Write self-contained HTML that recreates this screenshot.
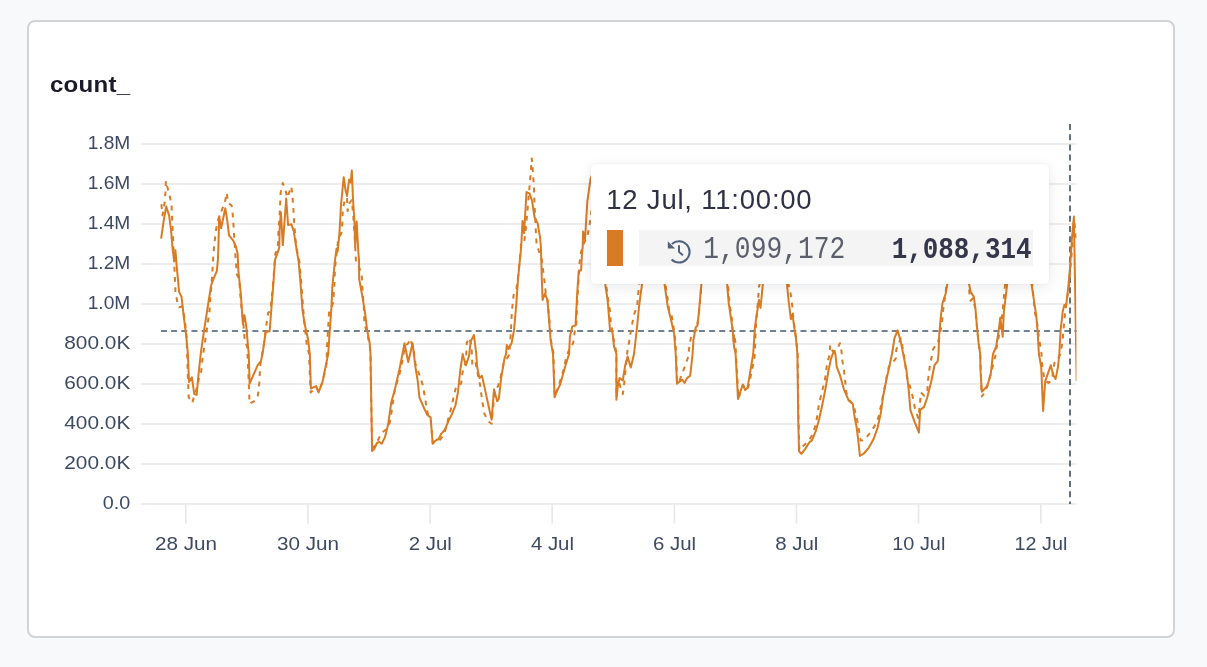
<!DOCTYPE html>
<html><head><meta charset="utf-8"><title>count_</title>
<style>
html,body{margin:0;padding:0}
body{width:1207px;height:667px;background:#f8f9fb;position:relative;overflow:hidden;font-family:"Liberation Sans",sans-serif}
.card{position:absolute;left:27px;top:20px;width:1144px;height:614px;border:2px solid #d2d3d7;border-radius:8px;background:#fff}
.title{position:absolute;left:50px;top:70px;font-weight:bold;font-size:22px;letter-spacing:.2px;color:#1a1a2b;line-height:30px;white-space:nowrap;transform:scaleX(1.095);transform-origin:0 0}
svg.chart{position:absolute;left:0;top:0}
svg.chart text{font-family:"Liberation Sans",sans-serif;font-size:19px;fill:#3d4a63}
.tip{position:absolute;left:591px;top:164px;width:458px;height:120px;background:#fff;border-radius:4.5px;box-shadow:0 3px 14px rgba(30,40,60,.10),0 0 2px rgba(30,40,60,.07)}
.tip .hd{position:absolute;left:15.3px;top:20.4px;font-size:27.5px;letter-spacing:.78px;line-height:32px;color:#2f3144;white-space:nowrap}
.tip .sw{position:absolute;left:16px;top:66px;width:16px;height:36px;background:#d97b23}
.tip .row{position:absolute;left:48px;top:66px;width:394px;height:36px;background:#f4f4f5}
.tip .prev{position:absolute;left:64.3px;top:3.3px;font-family:"Liberation Mono",monospace;font-size:26.3px;line-height:36px;color:#5b5f6b;white-space:nowrap;display:inline-block;transform:scaleY(1.17);transform-origin:50% 62%}
.tip .cur{position:absolute;right:1.5px;top:3.3px;font-family:"Liberation Mono",monospace;font-weight:bold;font-size:25.9px;line-height:36px;color:#34364a;white-space:nowrap;display:inline-block;transform:scaleY(1.17);transform-origin:50% 62%}
.tip svg{position:absolute;left:64px;top:66px}
</style></head><body>
<div class="card"></div>
<div class="title">count_</div>
<svg class="chart" width="1207" height="667" viewBox="0 0 1207 667">
<defs><clipPath id="cp"><rect x="140" y="120" width="936.4" height="390"/></clipPath></defs>
<g stroke="#e7e7e9" stroke-width="1.6"><line x1="141" x2="1076.5" y1="144" y2="144"/><line x1="141" x2="1076.5" y1="184" y2="184"/><line x1="141" x2="1076.5" y1="224" y2="224"/><line x1="141" x2="1076.5" y1="264" y2="264"/><line x1="141" x2="1076.5" y1="304" y2="304"/><line x1="141" x2="1076.5" y1="344" y2="344"/><line x1="141" x2="1076.5" y1="384" y2="384"/><line x1="141" x2="1076.5" y1="424" y2="424"/><line x1="141" x2="1076.5" y1="464" y2="464"/><line x1="141" x2="1076.5" y1="504" y2="504"/><line x1="185.8" x2="185.8" y1="504" y2="523.5"/><line x1="307.9" x2="307.9" y1="504" y2="523.5"/><line x1="430.1" x2="430.1" y1="504" y2="523.5"/><line x1="552.2" x2="552.2" y1="504" y2="523.5"/><line x1="674.4" x2="674.4" y1="504" y2="523.5"/><line x1="796.5" x2="796.5" y1="504" y2="523.5"/><line x1="918.6" x2="918.6" y1="504" y2="523.5"/><line x1="1040.8" x2="1040.8" y1="504" y2="523.5"/></g>
<g><text x="87.7" y="148.9" textLength="42.6" lengthAdjust="spacingAndGlyphs">1.8M</text><text x="87.7" y="188.9" textLength="42.6" lengthAdjust="spacingAndGlyphs">1.6M</text><text x="87.7" y="228.9" textLength="42.6" lengthAdjust="spacingAndGlyphs">1.4M</text><text x="87.7" y="268.9" textLength="42.6" lengthAdjust="spacingAndGlyphs">1.2M</text><text x="87.7" y="308.9" textLength="42.6" lengthAdjust="spacingAndGlyphs">1.0M</text><text x="64.3" y="348.9" textLength="66" lengthAdjust="spacingAndGlyphs">800.0K</text><text x="64.3" y="388.9" textLength="66" lengthAdjust="spacingAndGlyphs">600.0K</text><text x="64.3" y="428.9" textLength="66" lengthAdjust="spacingAndGlyphs">400.0K</text><text x="64.3" y="468.9" textLength="66" lengthAdjust="spacingAndGlyphs">200.0K</text><text x="102.8" y="508.9" textLength="27.5" lengthAdjust="spacingAndGlyphs">0.0</text></g><g><text x="155.0" y="550" textLength="62" lengthAdjust="spacingAndGlyphs">28 Jun</text><text x="277.1" y="550" textLength="62" lengthAdjust="spacingAndGlyphs">30 Jun</text><text x="408.7" y="550" textLength="43.1" lengthAdjust="spacingAndGlyphs">2 Jul</text><text x="530.9" y="550" textLength="43.1" lengthAdjust="spacingAndGlyphs">4 Jul</text><text x="653.0" y="550" textLength="43.1" lengthAdjust="spacingAndGlyphs">6 Jul</text><text x="775.2" y="550" textLength="43.1" lengthAdjust="spacingAndGlyphs">8 Jul</text><text x="892.3" y="550" textLength="53" lengthAdjust="spacingAndGlyphs">10 Jul</text><text x="1014.6" y="550" textLength="52.7" lengthAdjust="spacingAndGlyphs">12 Jul</text></g>
<line x1="161" x2="1076.5" y1="331" y2="331" stroke="#44586e" stroke-width="1.7" stroke-dasharray="6 4.15"/>
<line x1="1070" x2="1070" y1="124" y2="504" stroke="#44586e" stroke-width="1.7" stroke-dasharray="6 4.2"/>
<path clip-path="url(#cp)" d="M161.4 204.2 L162.5 215.4 L164.6 202.6 L165.4 192.9 L165.9 180.9 L167.0 185.7 L169.4 194.5 L171.5 204.2 L172.3 223.4 L173.0 236.2 L173.4 247.0 L174.6 271.1 L175.5 291.9 L177.5 303.1 L179.1 307.2 L182.3 306.4 L184.7 319.2 L186.6 336.8 L187.9 378.1 L188.7 397.3 L192.2 402.9 L194.3 395.7 L196.4 389.3 L199.1 378.1 L201.2 371.6 L202.3 360.4 L207.1 327.2 L209.5 311.2 L210.3 298.3 L211.9 279.1 L213.1 259.8 L214.0 247.0 L216.0 229.8 L217.9 220.2 L221.6 210.6 L224.8 202.6 L226.7 192.9 L228.0 202.6 L231.7 205.8 L232.8 215.4 L233.6 226.6 L234.1 236.2 L234.9 247.0 L235.7 259.8 L236.8 274.3 L239.2 279.1 L240.3 295.1 L241.6 308.0 L242.9 317.6 L244.8 341.6 L247.2 346.5 L248.8 384.5 L249.6 403.7 L255.3 400.5 L257.7 396.5 L259.3 382.9 L260.1 366.8 L260.9 360.4 L264.1 343.2 L266.5 324.0 L268.1 312.8 L270.2 311.2 L272.1 295.1 L273.7 275.9 L275.3 253.4 L277.7 248.6 L278.5 231.4 L279.8 212.2 L280.6 192.9 L282.8 183.0 L285.7 191.3 L287.3 197.7 L291.3 186.5 L292.5 196.1 L293.3 207.4 L293.9 218.6 L294.6 228.2 L296.2 247.0 L299.4 261.4 L301.0 279.1 L303.4 311.2 L304.5 324.0 L306.6 343.2 L309.0 354.0 L310.6 392.5 L313.0 390.1 L316.2 386.9 L318.6 391.7 L322.6 382.1 L326.6 363.6 L327.0 346.5 L328.2 327.2 L329.0 312.8 L333.1 303.1 L334.3 287.1 L335.0 267.9 L336.3 256.6 L338.0 241.0 L341.7 232.0 L342.5 220.0 L342.7 209.5 L344.7 200.5 L347.0 197.5 L347.6 211.0 L349.5 203.0 L351.8 200.0 L353.3 216.0 L354.6 236.0 L355.4 250.0 L356.0 262.0 L357.6 264.6 L361.6 272.7 L362.1 283.9 L363.2 298.3 L364.0 311.2 L364.4 324.0 L367.2 333.6 L369.7 344.9 L370.5 354.0 L370.9 386.1 L372.1 448.6 L375.3 445.4 L379.3 437.4 L381.7 432.6 L386.5 429.4 L389.7 423.0 L391.6 411.7 L394.8 390.1 L399.7 373.2 L402.1 362.0 L404.9 346.5 L408.2 343.2 L410.2 338.8 L412.2 344.9 L413.8 351.3 L415.4 363.6 L419.4 374.9 L422.6 384.5 L425.0 397.3 L426.6 408.5 L428.2 415.0 L430.6 418.2 L432.7 443.0 L435.4 441.4 L439.4 440.6 L444.2 434.2 L446.7 424.6 L449.1 415.8 L451.5 406.9 L453.9 395.7 L456.3 386.1 L461.1 383.7 L462.7 371.6 L465.9 362.0 L466.7 343.2 L469.1 337.6 L471.5 344.9 L472.3 365.2 L475.5 362.0 L477.9 374.9 L480.3 386.1 L481.9 398.9 L484.3 413.4 L488.4 421.4 L491.6 423.8 L493.2 406.9 L494.8 390.9 L498.0 386.1 L500.4 378.1 L503.6 363.6 L509.2 354.8 L510.8 333.6 L511.3 322.4 L511.9 311.2 L512.9 301.5 L514.0 291.9 L516.4 288.7 L518.0 277.5 L519.6 261.4 L520.9 248.6 L520.9 242.7 L524.1 241.9 L525.3 234.6 L527.3 212.2 L529.7 184.9 L531.8 158.4 L532.9 172.1 L534.0 188.1 L534.5 204.2 L535.3 220.2 L536.1 236.2 L536.6 244.3 L541.8 259.8 L543.4 272.7 L545.0 285.5 L545.8 293.5 L547.7 301.5 L549.3 319.2 L550.9 340.0 L553.4 352.9 L554.6 396.5 L558.6 386.1 L563.5 370.0 L565.9 358.8 L569.1 349.7 L573.1 343.2 L574.7 332.0 L576.3 324.0 L577.6 295.1 L579.2 271.1 L579.5 263.0 L581.1 251.8 L584.2 242.7 L587.4 236.2 L589.8 223.4 L593.0 200.0 L597.0 180.0 L600.0 195.0 L604.0 240.0 L606.0 283.9 L608.4 301.5 L610.0 311.2 L610.8 322.4 L613.2 336.8 L614.8 344.9 L616.4 352.9 L616.4 397.3 L618.3 379.7 L620.4 386.9 L622.8 394.1 L624.1 384.5 L625.7 368.4 L626.8 357.2 L627.6 349.7 L629.2 341.6 L631.6 327.2 L634.0 314.4 L637.2 306.4 L638.0 295.1 L639.2 285.5 L643.0 240.0 L648.0 200.0 L654.0 210.0 L660.0 245.0 L665.3 283.9 L666.9 293.5 L669.3 311.2 L671.7 316.0 L673.3 325.6 L674.9 336.8 L676.2 352.9 L677.0 382.9 L679.0 382.1 L682.2 373.2 L685.4 365.2 L688.6 355.6 L688.9 349.7 L691.0 336.8 L692.6 332.0 L696.6 330.4 L699.0 312.8 L701.4 285.5 L705.0 240.0 L710.0 205.0 L716.0 215.0 L722.0 250.0 L727.9 283.9 L729.5 303.1 L731.9 319.2 L732.7 333.6 L734.0 343.2 L734.0 333.6 L735.6 343.2 L735.9 352.9 L738.5 398.1 L741.2 390.1 L743.3 385.3 L745.5 390.1 L748.4 386.9 L752.4 368.4 L754.5 357.2 L754.9 349.7 L755.7 330.4 L756.5 317.6 L758.1 299.9 L758.9 287.1 L759.7 283.9 L766.0 240.0 L771.0 200.0 L777.0 210.0 L783.0 245.0 L788.5 283.9 L790.9 295.1 L792.5 308.0 L793.4 319.2 L795.0 330.4 L796.6 343.2 L797.7 354.0 L797.8 370.0 L798.5 418.2 L799.3 450.2 L802.2 447.0 L804.6 444.6 L809.4 439.8 L812.6 434.2 L815.8 424.6 L817.4 415.0 L819.0 403.7 L821.4 394.1 L823.8 384.5 L825.8 374.9 L827.0 363.6 L829.4 355.6 L830.2 344.9 L832.7 351.3 L836.7 350.5 L839.9 343.2 L841.5 351.3 L842.3 360.4 L843.9 370.0 L845.2 381.3 L846.3 392.5 L849.5 400.5 L853.5 405.3 L856.7 417.4 L858.3 426.2 L860.7 440.6 L863.9 440.3 L870.3 432.6 L876.0 423.8 L879.2 415.0 L881.6 402.1 L884.0 390.9 L886.4 378.1 L888.8 366.8 L894.4 360.4 L896.0 358.0 L896.3 349.7 L900.8 338.4 L902.4 346.5 L903.7 352.9 L904.8 362.0 L907.2 378.1 L910.4 387.7 L913.6 400.5 L915.2 410.1 L918.4 418.2 L920.1 402.1 L920.9 392.5 L924.1 395.7 L927.3 390.9 L928.1 379.7 L929.7 366.8 L931.3 358.8 L932.9 349.7 L935.3 345.7 L937.7 343.2 L940.1 333.6 L942.0 322.4 L943.0 311.2 L945.7 291.9 L946.5 284.7 L951.0 245.0 L956.0 210.0 L961.0 225.0 L966.0 255.0 L968.7 284.2 L969.5 293.5 L970.6 300.7 L973.0 298.3 L975.4 309.6 L977.0 327.2 L978.6 343.2 L980.2 352.9 L980.7 370.0 L981.8 396.5 L984.2 393.3 L987.4 386.1 L992.2 368.4 L994.6 358.8 L995.8 354.0 L996.2 349.7 L998.7 336.8 L1001.1 324.0 L1002.7 311.2 L1004.3 291.9 L1005.1 284.7 L1010.0 245.0 L1015.0 205.0 L1021.0 215.0 L1027.0 250.0 L1032.3 284.7 L1034.7 311.2 L1037.2 324.0 L1038.8 336.8 L1040.4 346.5 L1041.5 354.0 L1042.0 363.6 L1044.4 379.7 L1048.4 382.9 L1050.8 381.3 L1052.4 376.5 L1054.8 360.4 L1058.8 357.2 L1060.4 354.0 L1061.2 349.7 L1062.8 338.4 L1063.9 325.6 L1065.2 311.2 L1066.8 299.9 L1069.2 285.5 L1070.4 267.9 L1072.0 250.2 L1074.0 220.0 L1076.5 240.0" fill="none" stroke="#d97b23" stroke-width="2" stroke-dasharray="4.8 5.4" stroke-linejoin="round"/>
<path clip-path="url(#cp)" d="M161.1 238.7 L163.8 220.2 L166.2 206.6 L169.1 215.4 L171.0 229.8 L172.2 244.3 L172.6 248.6 L174.2 261.4 L175.4 250.2 L176.7 266.2 L179.1 291.9 L181.5 296.7 L183.9 317.6 L186.3 336.8 L187.9 354.0 L189.0 382.1 L191.9 377.3 L194.3 394.1 L196.7 394.9 L198.0 379.7 L200.7 354.0 L203.1 336.8 L206.3 316.0 L211.1 285.5 L213.1 279.9 L216.8 271.1 L217.9 259.8 L218.4 247.0 L219.2 216.2 L221.1 228.2 L225.3 208.2 L227.2 220.2 L229.1 235.4 L233.6 241.1 L236.0 247.0 L237.6 253.4 L238.4 271.1 L240.8 293.5 L242.4 317.6 L242.9 324.0 L244.5 315.2 L246.4 327.2 L248.0 346.5 L248.8 354.0 L249.6 383.7 L257.7 365.2 L260.9 361.2 L262.5 354.0 L265.7 332.0 L269.7 331.2 L270.8 316.0 L273.7 279.1 L275.0 259.8 L278.5 250.2 L279.3 247.0 L279.6 229.8 L280.9 212.2 L282.8 245.1 L286.2 198.5 L288.1 225.0 L291.3 224.2 L293.8 231.4 L296.2 247.0 L298.6 261.4 L300.2 279.1 L302.6 311.2 L305.0 325.6 L308.2 340.0 L309.8 354.0 L310.9 388.5 L316.2 386.1 L318.6 392.5 L322.6 381.3 L328.2 354.0 L329.8 330.4 L331.5 306.4 L332.3 287.1 L334.7 263.0 L336.5 248.5 L337.7 251.5 L339.5 232.0 L341.0 205.0 L343.7 177.2 L345.5 190.0 L347.0 196.0 L349.2 179.5 L350.7 182.5 L351.8 170.5 L353.0 199.0 L354.5 223.0 L355.2 247.0 L356.7 221.5 L358.2 250.0 L359.0 260.0 L359.2 279.1 L362.4 296.7 L364.8 311.2 L367.2 330.4 L369.7 343.2 L370.5 354.0 L371.3 402.1 L372.1 451.0 L374.5 448.6 L376.9 443.0 L379.3 441.9 L381.7 443.8 L384.9 437.4 L388.1 424.6 L391.3 402.1 L394.5 390.9 L399.3 370.0 L402.5 354.0 L404.5 343.2 L408.2 362.0 L412.6 343.2 L415.4 366.8 L417.8 381.3 L419.4 397.3 L424.2 408.5 L427.4 415.0 L430.6 417.4 L432.7 443.8 L435.4 440.6 L438.6 439.0 L441.0 434.2 L445.0 429.4 L448.3 421.4 L452.3 413.4 L455.5 405.3 L457.9 392.5 L460.3 370.0 L462.7 354.0 L463.5 357.2 L465.9 365.2 L469.1 355.6 L470.7 341.6 L473.9 334.9 L476.3 354.0 L477.1 366.8 L479.5 378.1 L481.9 375.7 L484.3 386.1 L488.4 405.3 L491.6 419.8 L494.0 389.3 L497.2 401.3 L498.8 398.9 L501.2 378.1 L504.4 358.8 L506.0 354.0 L506.8 344.9 L508.4 348.9 L511.6 343.2 L514.0 330.4 L516.4 303.1 L518.0 279.1 L519.6 263.0 L521.2 247.0 L522.5 221.0 L524.1 233.0 L526.5 192.1 L529.7 193.7 L532.1 201.0 L534.5 217.0 L537.7 223.4 L540.1 237.9 L540.9 247.0 L541.8 279.1 L542.6 299.9 L545.0 293.5 L547.4 299.9 L549.0 319.2 L550.6 340.0 L553.0 354.0 L554.6 397.3 L557.0 390.9 L560.2 384.5 L565.1 366.8 L569.1 354.0 L569.9 336.8 L572.3 326.4 L575.5 325.6 L577.1 295.1 L578.7 271.1 L581.1 270.3 L581.9 255.0 L582.7 247.0 L583.1 231.4 L585.0 239.5 L587.4 201.0 L590.6 178.5 L594.0 170.0 L597.0 186.0 L600.0 200.0 L603.0 235.0 L605.2 283.9 L607.6 299.9 L609.2 319.2 L610.0 330.4 L612.4 332.0 L614.0 346.5 L616.4 354.0 L616.4 399.7 L618.0 384.5 L619.6 378.1 L622.8 380.5 L625.2 365.2 L627.6 356.4 L630.8 367.6 L634.0 354.0 L635.6 340.0 L637.2 325.6 L638.9 308.0 L640.5 295.1 L642.1 283.9 L646.0 240.0 L650.0 200.0 L655.0 215.0 L660.0 250.0 L664.5 283.9 L666.1 295.1 L667.7 306.4 L670.9 319.2 L674.1 333.6 L675.7 354.0 L677.0 383.7 L679.8 381.3 L682.2 379.7 L684.6 382.9 L687.0 378.1 L690.2 375.7 L692.6 354.0 L693.4 340.0 L695.8 327.2 L697.4 325.6 L699.0 311.2 L701.4 283.9 L705.0 240.0 L710.0 200.0 L716.0 210.0 L722.0 250.0 L727.1 283.9 L728.7 303.1 L731.1 319.2 L732.7 330.4 L734.0 346.5 L735.6 354.0 L738.0 398.9 L741.2 389.3 L742.8 384.5 L745.2 390.1 L747.6 387.7 L750.0 373.2 L753.2 354.0 L754.9 327.2 L757.3 311.2 L758.9 299.9 L760.5 308.0 L762.1 291.9 L762.9 283.9 L767.0 240.0 L772.0 200.0 L778.0 215.0 L783.0 250.0 L786.9 283.9 L788.5 299.9 L790.9 319.2 L792.5 314.4 L794.2 327.2 L795.8 336.8 L797.4 354.0 L798.2 418.2 L799.0 451.0 L801.4 453.8 L805.4 448.6 L809.4 442.2 L811.8 440.6 L815.8 431.0 L819.0 419.8 L822.2 405.3 L825.4 389.3 L828.6 370.0 L831.0 358.8 L832.7 354.0 L834.3 351.3 L835.4 354.0 L836.7 366.8 L839.9 374.9 L843.9 389.3 L848.7 400.5 L852.7 403.7 L854.3 415.0 L856.7 427.8 L858.3 440.6 L859.9 455.9 L863.9 453.5 L868.7 447.8 L873.6 439.0 L877.6 427.8 L880.8 413.4 L883.2 395.7 L886.4 379.7 L889.6 365.2 L892.0 354.0 L894.4 338.4 L897.6 330.4 L900.8 341.6 L903.2 354.0 L906.4 370.0 L908.8 390.9 L910.4 410.1 L914.4 421.4 L918.9 432.6 L920.1 410.1 L924.1 406.9 L927.3 397.3 L931.3 381.3 L934.5 365.2 L937.7 361.2 L938.5 354.0 L939.3 333.6 L940.9 316.0 L942.5 303.1 L945.7 293.5 L947.3 283.9 L951.0 245.0 L956.0 205.0 L961.0 220.0 L965.0 255.0 L969.0 283.9 L970.6 291.9 L973.8 296.7 L975.4 308.0 L977.0 327.2 L978.6 343.2 L980.2 354.0 L980.5 370.0 L981.8 391.7 L985.0 388.5 L987.4 385.3 L990.6 374.9 L993.0 354.0 L996.2 346.5 L998.7 330.4 L1000.3 317.6 L1002.7 336.8 L1003.9 311.2 L1005.9 295.1 L1007.2 283.9 L1011.0 245.0 L1016.0 205.0 L1022.0 215.0 L1027.0 250.0 L1031.5 283.9 L1033.9 299.9 L1036.3 316.0 L1037.5 330.4 L1038.3 343.2 L1038.9 354.0 L1041.2 366.8 L1043.1 410.9 L1045.2 381.3 L1050.8 365.2 L1053.2 374.9 L1055.6 378.9 L1058.0 366.8 L1059.3 354.0 L1060.6 330.4 L1062.8 311.0 L1064.4 304.7 L1066.0 307.0 L1068.4 285.5 L1070.0 267.9 L1072.0 237.5 L1073.9 216.5 L1076.7 381" fill="none" stroke="#d97b23" stroke-width="2" stroke-linejoin="round"/>
</svg>
<div class="tip">
<div class="hd">12 Jul, 11:00:00</div>
<div class="sw"></div>
<div class="row"><span class="prev">1,099,172</span><span class="cur">1,088,314</span></div>
<svg width="60" height="40" viewBox="655 230 60 40" fill="none" stroke="#52627a" stroke-width="2.1"><path d="M671.9 244A10.6 10.6 0 1 1 671.6 259.5"/><path d="M679 245.3V251.9L682.9 255.2" stroke-width="2"/><path d="M667.8 241.3V248.6H675.1Z" fill="#52627a" stroke="none"/></svg>
</div>
</body></html>
